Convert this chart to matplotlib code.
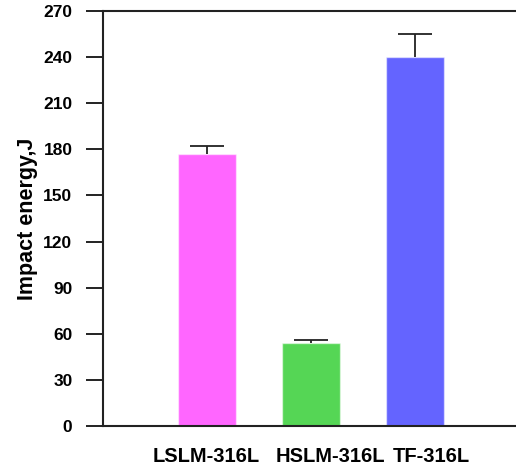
import matplotlib
matplotlib.use('Agg')
import matplotlib.pyplot as plt
import numpy as np

# data
samples = ['LSLM-316L', 'HSLM-316L', 'TF-316L']
impact_energy = [177, 54, 240]
upper_err = [5, 2, 15]
bar_colors = ['#ff66ff', '#55d655', '#6464ff']
y_ticks = [0, 30, 60, 90, 120, 150, 180, 210, 240, 270]
label_pos = [-0.01, 1.19, 2.16]

plt.rcParams['font.family'] = ['Liberation Sans', 'DejaVu Sans']
plt.rcParams['font.weight'] = 'bold'

fig = plt.figure(figsize=(5.16, 4.69), dpi=100)
ax = fig.add_axes([0.1996, 0.0917, 0.8004, 0.8848])

x = np.arange(len(samples))
ax.bar(x, impact_energy, width=0.56, color=bar_colors,
       edgecolor=(1, 1, 1, 0.5), linewidth=1.0, zorder=2)
eb = ax.errorbar(x, impact_energy, yerr=[np.zeros(len(x)), upper_err],
                 fmt='none', ecolor='#222222', elinewidth=1.3,
                 capsize=12, capthick=1.3, zorder=3)
# only the upper cap is drawn in the original
eb[1][0].set_visible(False)

ax.set_xlim(-1.0, 2.97)
ax.set_ylim(0, 270)
ax.set_yticks(y_ticks)
ax.set_yticklabels([str(t) for t in y_ticks], fontsize=12.5, fontweight='bold')
ax.tick_params(axis='y', length=12, width=1.4, pad=10, color='#222222')

ax.set_xticks(label_pos)
ax.set_xticklabels(samples, fontsize=14.5, fontweight='bold')
ax.tick_params(axis='x', length=0, pad=15)

ax.set_ylabel('Impact energy,J', fontsize=15.5, fontweight='bold', labelpad=4)

for side in ['left', 'bottom', 'top']:
    ax.spines[side].set_linewidth(1.5)
    ax.spines[side].set_color('#222222')
ax.spines['right'].set_visible(False)

fig.savefig('out.png', dpi=100)
